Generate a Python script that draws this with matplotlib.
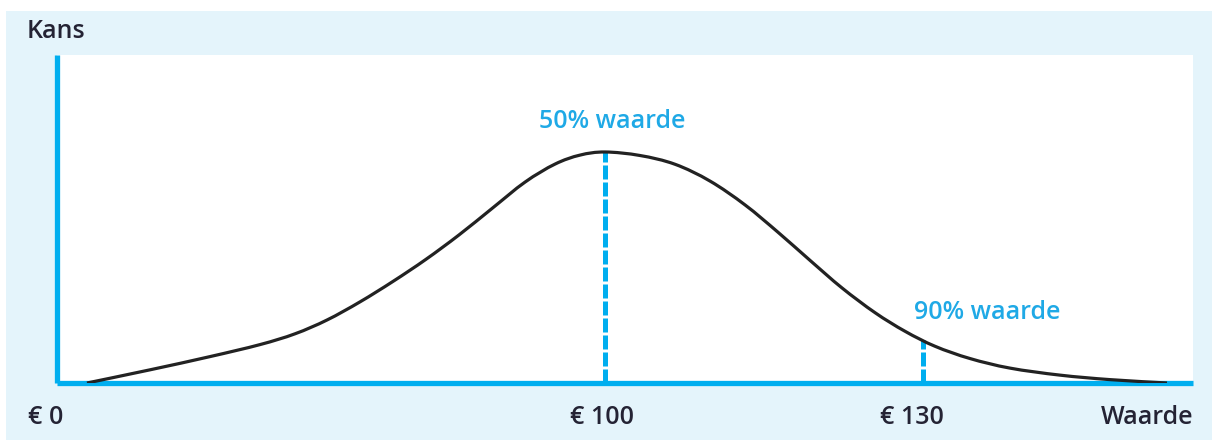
import matplotlib
matplotlib.use("Agg")
import matplotlib.pyplot as plt
from matplotlib.patches import Rectangle, PathPatch
from matplotlib.path import Path
from matplotlib.transforms import blended_transform_factory
import numpy as np

# Curve (x: position along axis 0-100, y: height 0-100)
curve_x = [2.64, 8.19, 13.47, 17.87, 20.95, 23.77, 26.67, 29.58, 32.48, 35.39,
           38.29, 41.20, 43.84, 46.04, 48.24, 51.32, 54.40, 57.48, 60.56, 63.47,
           66.29, 69.10, 72.01, 74.65, 77.29, 80.37, 83.89, 88.29, 92.69, 97.71]
curve_y = [0.0, 4.02, 8.05, 11.71, 15.0, 19.21, 24.73, 30.98, 37.71, 45.15,
           53.20, 61.25, 66.74, 69.48, 70.43, 69.36, 66.69, 61.57, 54.31, 45.96,
           37.38, 28.99, 21.44, 15.77, 11.20, 7.46, 4.54, 2.40, 1.03, 0.0]

# Marked values
marker_x = [48.24, 76.23]
marker_labels = ["50% waarde", "90% waarde"]
tick_pos = [-1.0, 48.0, 75.3]
tick_labels = ["€ 0", "€ 100", "€ 130"]

BLUE = "#00AEEF"
TEXT_BLUE = "#1FA9E6"
DARK = "#242334"
BG = "#E4F4FB"

plt.rcParams["font.family"] = ["Open Sans", "DejaVu Sans"]


def smooth_path(xs, ys):
    # Catmull-Rom through the read points, drawn as bezier segments
    pts = np.column_stack([xs, ys])
    ext = np.vstack([pts[0], pts, pts[-1]])
    verts = [pts[0]]
    codes = [Path.MOVETO]
    for i in range(1, len(ext) - 2):
        p0, p1, p2, p3 = ext[i - 1], ext[i], ext[i + 1], ext[i + 2]
        verts += [p1 + (p2 - p0) / 6, p2 - (p3 - p1) / 6, p2]
        codes += [Path.CURVE4] * 3
    return Path(verts, codes)


fig = plt.figure(figsize=(12.12, 4.40), dpi=100)
fig.patches.append(Rectangle((6 / 1212, 0), 1 - 6 / 1212, 1 - 11 / 440,
                             transform=fig.transFigure, facecolor=BG,
                             edgecolor="none", zorder=-5))

ax = fig.add_axes([57 / 1212, 57 / 440, (1193 - 57) / 1212, (383 - 55) / 440])
ax.set_zorder(2)
ax.set_facecolor("white")
ax.set_xlim(0, 100)
ax.set_ylim(0, 100)

ax.add_patch(PathPatch(smooth_path(curve_x, curve_y), facecolor="none",
                       edgecolor="#222222", lw=2.3, capstyle="butt", zorder=3))

# dashed lines up to the curve
for mx in marker_x:
    top = np.interp(mx, curve_x, curve_y)
    ax.plot([mx, mx], [0, top], color=BLUE, lw=3.6,
            linestyle=(0, (2.8, 0.6)), zorder=2)

ax.text(48.9, 79.6, marker_labels[0], color=TEXT_BLUE, fontsize=18,
        fontweight="semibold", ha="center", va="center")
ax.text(81.9, 21.4, marker_labels[1], color=TEXT_BLUE, fontsize=18,
        fontweight="semibold", ha="center", va="center")

for s in ["top", "right"]:
    ax.spines[s].set_visible(False)
for s in ["left", "bottom"]:
    ax.spines[s].set_color(BLUE)
    ax.spines[s].set_linewidth(3.8)
    ax.spines[s].set_capstyle("butt")
ax.set_xticks([])
ax.set_yticks([])

trans = blended_transform_factory(ax.transData, ax.transAxes)
for p, lab in zip(tick_pos, tick_labels):
    ax.text(p, -0.105, lab, transform=trans, color=DARK, fontsize=18,
            fontweight="semibold", ha="center", va="center")
ax.text(1.0, -0.105, "Waarde", transform=ax.transAxes, color=DARK,
        fontsize=18, fontweight="semibold", ha="right", va="center")

fig.text(27 / 1212, 1 - 32 / 440, "Kans", color=DARK, fontsize=18,
         fontweight="semibold", ha="left", va="center")

fig.savefig("out.png", dpi=100)
